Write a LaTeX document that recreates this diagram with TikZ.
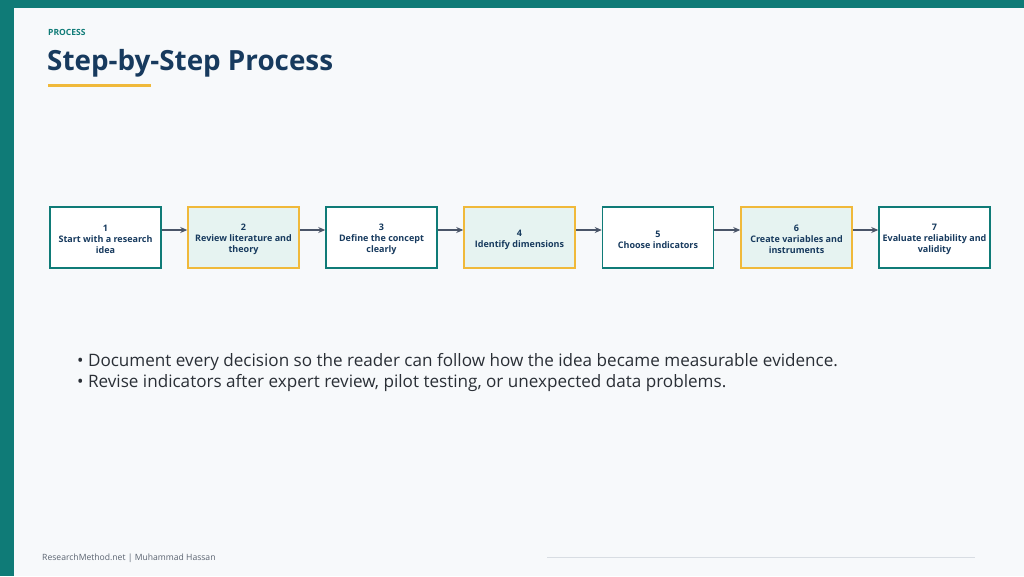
\documentclass[tikz,border=0pt]{standalone}
\usepackage{fontspec}
\setmainfont{Open Sans}
\usetikzlibrary{arrows.meta}
\definecolor{teal}{HTML}{0F7B77}
\definecolor{bg}{HTML}{F7F9FB}
\definecolor{navy}{HTML}{173A5E}
\definecolor{gold}{HTML}{F0B93A}
\definecolor{lightfill}{HTML}{E6F3F1}
\definecolor{arrowc}{HTML}{4A5568}
\definecolor{bodytext}{HTML}{2A2F36}
\definecolor{footc}{HTML}{5A6370}
\definecolor{rulec}{HTML}{D8DDE3}
\newcommand\stepnum[1]{\rule{0pt}{11pt}#1}
\tikzset{
  stepbox/.style={draw=teal, line width=1.5pt, fill=white, minimum width=111pt, minimum height=61pt, inner sep=0pt, align=center, font=\fontsize{9}{11}\selectfont\bfseries, text=navy},
  altbox/.style={stepbox, draw=gold, fill=lightfill},
  flow/.style={draw=arrowc, line width=1.1pt, -{Stealth[length=7pt,width=6pt]}}
}
\begin{document}
\begin{tikzpicture}[x=1pt,y=-1pt]
\useasboundingbox (0,0) rectangle (1024,576);
\fill[teal] (0,0) rectangle (1024,576);
\fill[bg] (14,8) rectangle (1024,576);
\node[anchor=base west, inner sep=0pt, text=teal, font=\fontsize{8.5}{10}\selectfont\bfseries] (kicker) at (48,35) {PROCESS};
\node[anchor=base west, inner sep=0pt, text=navy, font=\fontsize{27.8}{32}\selectfont\bfseries] (title) at (47,70) {Step-by-Step Process};
\draw[gold, line width=3pt] (48,85.5) -- (151,85.5);

\node[stepbox] (s1) at (105.5,237.5) {\stepnum{1}\\Start with a research\\idea};
\node[altbox]  (s2) at (243.5,237.5) {\stepnum{2}\\Review literature and\\theory};
\node[stepbox] (s3) at (381.5,237.5) {\stepnum{3}\\Define the concept\\clearly};
\node[altbox]  (s4) at (519.5,237.5) {\stepnum{4}\\Identify dimensions};
\node[stepbox] (s5) at (658,237.5) {\stepnum{5}\\Choose indicators};
\node[altbox]  (s6) at (796.5,237.5) {\stepnum{6}\\Create variables and\\instruments};
\node[stepbox] (s7) at (934.5,237.5) {\stepnum{7}\\Evaluate reliability and\\validity};

\foreach \a/\b in {s1/s2,s2/s3,s3/s4,s4/s5,s5/s6,s6/s7}{
  \draw[flow] ([yshift=7.5pt]\a.east) -- ([yshift=7.5pt]\b.west);
}

\node[anchor=base west, inner sep=0pt, text=bodytext, font=\fontsize{17.1}{21}\selectfont] (b1) at (77,366) {• Document every decision so the reader can follow how the idea became measurable evidence.};
\node[anchor=base west, inner sep=0pt, text=bodytext, font=\fontsize{17.1}{21}\selectfont] (b2) at (77,387) {• Revise indicators after expert review, pilot testing, or unexpected data problems.};

\node[anchor=base west, inner sep=0pt, text=footc, font=\fontsize{8.6}{10}\selectfont] (foot) at (42,560) {ResearchMethod.net | Muhammad Hassan};
\draw[rulec, line width=0.8pt] (547,557.5) -- (975,557.5);
\end{tikzpicture}
\end{document}
